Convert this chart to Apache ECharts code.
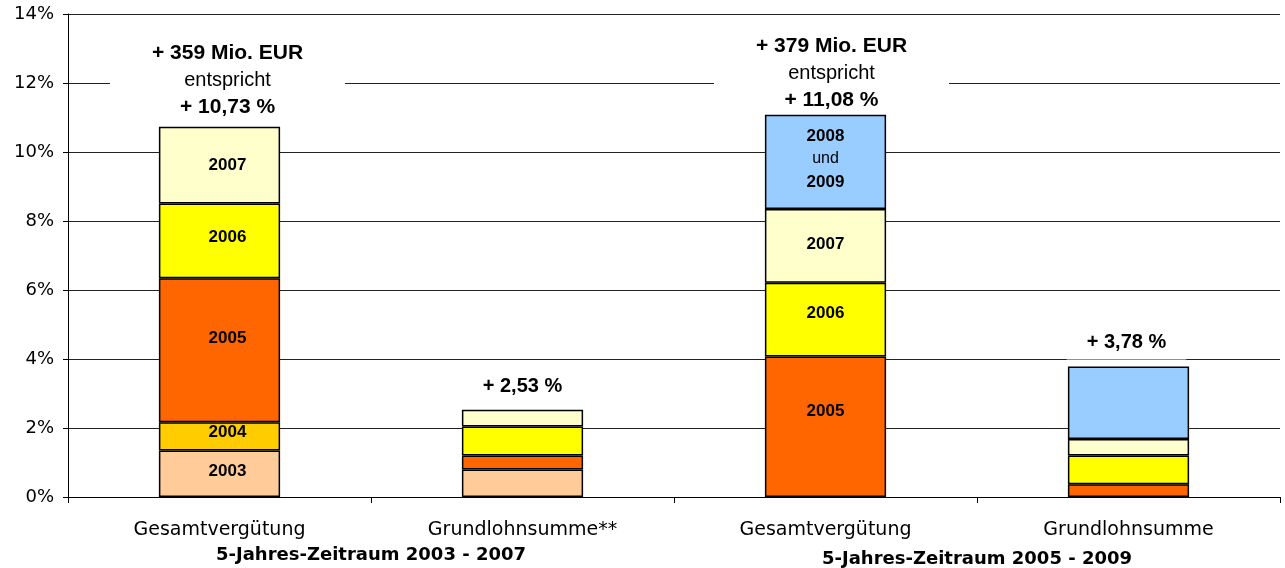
<!DOCTYPE html>
<html>
<head>
<meta charset="utf-8">
<script src="https://cdn.jsdelivr.net/npm/echarts@6/dist/echarts.min.js"></script>
<style>
  html, body { margin: 0; padding: 0; background: #fff; }
  #chart { width: 1285px; height: 568px; }
</style>
</head>
<body>
<div id="chart"></div>
<script>
// Categories on the x axis and the two five-year periods beneath them
const categories = ['Gesamtvergütung', 'Grundlohnsumme**', 'Gesamtvergütung', 'Grundlohnsumme'];
const periods = ['5-Jahres-Zeitraum 2003 - 2007', '5-Jahres-Zeitraum 2005 - 2009'];

// Yearly increase in percent, one entry per category (null = no segment)
const v2003 = [1.35, 0.80, null, null];
const v2004 = [0.82, null, null, null];
const v2005 = [4.17, 0.40, 4.07, 0.37];
const v2006 = [2.17, 0.84, 2.14, 0.83];
const v2007 = [2.22, 0.49, 2.14, 0.48];
const v2008u09 = [null, null, 2.73, 2.10];

// Totals written above each column
const totalsPct = [10.73, 2.53, 11.08, 3.78];
const totalsEUR = [359, null, 379, null];

// y axis: 0 % .. 14 %, every 2 %
const yMin = 0, yMax = 14, yStep = 2;

const AXIS_FONT = 'DejaVu Sans';
const LABEL_FONT = 'Liberation Sans, Arial, sans-serif';

const segments = [
  { name: '2003', data: v2003, color: '#FFCC99' },
  { name: '2004', data: v2004, color: '#FFCC00' },
  { name: '2005', data: v2005, color: '#FF6600' },
  { name: '2006', data: v2006, color: '#FFFF00' },
  { name: '2007', data: v2007, color: '#FFFFCC' },
  { name: '2008 und 2009', data: v2008u09, color: '#99CCFF' }
];

// Year labels are written inside the "Gesamtvergütung" columns only;
// per-segment nudges of the year label, [dx, dy] in pixels
const labelNudge = {
  '2003': { 0: [8, -2] },
  '2004': { 0: [8, -4] },
  '2005': { 0: [8, -12], 2: [0, -15] },
  '2006': { 0: [8, -4], 2: [0, -6] },
  '2007': { 0: [8, 0], 2: [0, -2] },
  '2008 und 2009': { 2: [0, -3] }
};

function fmtPct(v) {
  return '+ ' + v.toFixed(2).replace('.', ',') + ' %';
}

const barSeries = segments.map(seg => ({
  name: seg.name,
  type: 'bar',
  stack: 'total',
  barWidth: '40%',
  itemStyle: { color: seg.color, borderColor: '#000', borderWidth: 1.5 },
  emphasis: { disabled: true },
  data: seg.data.map((v, i) => {
    if (v == null) return null;
    const nudge = (labelNudge[seg.name] || {})[i];
    return nudge ? { value: v, label: { offset: nudge } } : { value: v };
  }),
  label: {
    show: true,
    position: 'inside',
    color: '#000',
    fontFamily: LABEL_FONT,
    fontWeight: 'bold',
    fontSize: 17,
    formatter: p => {
      const nudge = (labelNudge[seg.name] || {})[p.dataIndex];
      if (!nudge) return '';
      if (seg.name === '2008 und 2009') return '{b|2008}\n{n|und}\n{b|2009}';
      return seg.name;
    },
    rich: {
      b: { fontFamily: LABEL_FONT, fontWeight: 'bold', fontSize: 17, lineHeight: 23, color: '#000' },
      n: { fontFamily: LABEL_FONT, fontWeight: 'normal', fontSize: 16, lineHeight: 23, color: '#000' }
    }
  }
}));

// Placement of the total labels above each column
const totalLabelStyle = [
  { distance: 6, offset: [8, 0], padding: [4, 8, 0, 8], width: 219 },
  { distance: 12, offset: [0, 0], padding: [2, 10, 0, 10], width: 0 },
  { distance: 1, offset: [6, 0], padding: [4, 8, 0, 8], width: 219 },
  { distance: 7, offset: [-2, 0], padding: [3, 20, 6, 20], width: 0 }
];

const totalSeries = {
  type: 'scatter',
  symbolSize: 0,
  silent: true,
  z: 10,
  itemStyle: { opacity: 1 },
  emphasis: { disabled: true },
  data: totalsPct.map((v, i) => {
    const s = totalLabelStyle[i];
    const lab = {
      distance: s.distance,
      offset: s.offset,
      padding: s.padding
    };
    if (s.width) lab.width = s.width;
    return { value: v, label: lab };
  }),
  label: {
    show: true,
    position: 'top',
    backgroundColor: '#fff',
    color: '#000',
    opacity: 1,
    align: 'center',
    formatter: p => {
      const eur = totalsEUR[p.dataIndex];
      const pct = fmtPct(totalsPct[p.dataIndex]);
      if (eur != null) {
        return '{b|+ ' + eur + ' Mio. EUR}\n{n|entspricht}\n{b|' + pct + '}';
      }
      return '{s|' + pct + '}';
    },
    rich: {
      b: { fontFamily: LABEL_FONT, fontWeight: 'bold', fontSize: 21, lineHeight: 27, color: '#000', align: 'center' },
      n: { fontFamily: LABEL_FONT, fontWeight: 'normal', fontSize: 20, lineHeight: 27, color: '#000', align: 'center' },
      s: { fontFamily: LABEL_FONT, fontWeight: 'bold', fontSize: 20, lineHeight: 22, color: '#000', align: 'center' }
    }
  }
};

const chart = echarts.init(document.getElementById('chart'), null, { renderer: 'canvas' });

chart.setOption({
  animation: false,
  backgroundColor: '#fff',
  grid: { left: 68, right: 5, top: 14, bottom: 71, containLabel: false },
  xAxis: [
    {
      type: 'category',
      data: categories,
      position: 'bottom',
      axisLine: { show: true, lineStyle: { color: '#000', width: 1 } },
      axisTick: { show: true, length: 6, lineStyle: { color: '#000' } },
      axisLabel: { color: '#000', fontFamily: AXIS_FONT, fontSize: 19, margin: 24 },
      splitLine: { show: false }
    },
    {
      type: 'category',
      data: periods.map((p, i) => ({
        value: p,
        textStyle: { padding: i === 1 ? [4, 0, 0, 0] : [0, 0, 0, 0] }
      })),
      position: 'bottom',
      axisLine: { show: false },
      axisTick: { show: false },
      axisLabel: { color: '#000', fontFamily: AXIS_FONT, fontWeight: 'bold', fontSize: 18, margin: 49 },
      splitLine: { show: false }
    }
  ],
  yAxis: {
    type: 'value',
    min: yMin,
    max: yMax,
    interval: yStep,
    axisLine: { show: true, lineStyle: { color: '#000', width: 1 } },
    axisTick: { show: true, length: 5, lineStyle: { color: '#000' } },
    axisLabel: { color: '#000', fontFamily: AXIS_FONT, fontSize: 18, margin: 14, formatter: '{value}%' },
    splitLine: { show: true, lineStyle: { color: '#222', width: 1 } }
  },
  series: barSeries.concat([totalSeries])
});
</script>
</body>
</html>
